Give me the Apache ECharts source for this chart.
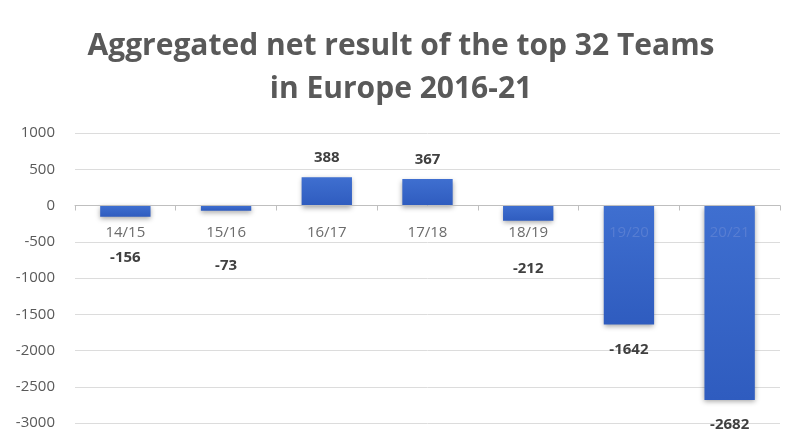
<!DOCTYPE html>
<html>
<head>
<meta charset="utf-8">
<script src="https://cdn.jsdelivr.net/npm/echarts@6/dist/echarts.min.js"></script>
<style>
  html, body { margin: 0; padding: 0; background: #ffffff; }
  #chart { width: 802px; height: 441px; }
</style>
</head>
<body>
<div id="chart"></div>
<script>
// Seasons on the category axis
const seasons = ['14/15', '15/16', '16/17', '17/18', '18/19', '19/20', '20/21'];
// Aggregated net result per season (EUR m)
const netResult = [-156, -73, 388, 367, -212, -1642, -2682];
// Gap between each bar end and its value label
const labelGap = [33, 47, 12, 12, 40, 18, 17];

const titleLines = ['Aggregated net result of the top 32 Teams', 'in Europe 2016-21'];

const yMin = -3000, yMax = 1000;
const gridTop = 133, gridBottom = 18, chartH = 441;

const chart = echarts.init(document.getElementById('chart'));

const barData = netResult.map((v, i) => ({
  value: v,
  label: {
    position: v < 0 ? 'bottom' : 'top',
    distance: labelGap[i]
  }
}));

// distance from the grid bottom up to the zero line, so the category axis sits on zero
const plotH = chartH - gridTop - gridBottom;
const zeroFromBottom = plotH * (0 - yMin) / (yMax - yMin);

chart.setOption({
  animation: false,
  title: {
    text: titleLines.join('\n'),
    left: 'center',
    top: 20,
    textStyle: {
      fontFamily: 'Open Sans',
      fontWeight: 'bold',
      fontSize: 30,
      color: '#595959',
      lineHeight: 43
    }
  },
  grid: {
    left: 75, right: 22, top: gridTop, bottom: gridBottom,
    containLabel: false,
    outerBoundsMode: 'none'
  },
  xAxis: {
    type: 'category',
    data: seasons,
    position: 'bottom',
    offset: -zeroFromBottom,
    z: 6,
    axisLine: { onZero: false, lineStyle: { color: '#bfbfbf', width: 1 } },
    axisTick: { show: true, length: 5, lineStyle: { color: '#bfbfbf' } },
    axisLabel: {
      margin: 20,
      fontFamily: 'Open Sans',
      fontSize: 15,
      // seasons whose long bars run through the label show it faintly on the bar
      color: (val, idx) => (netResult[idx] < -1000 ? 'rgba(110,140,215,0.55)' : '#6b6b6b')
    }
  },
  yAxis: {
    type: 'value',
    min: yMin,
    max: yMax,
    interval: 500,
    axisLine: { show: false },
    axisTick: { show: false },
    splitLine: { lineStyle: { color: '#dcdcdc', width: 1 } },
    axisLabel: {
      margin: 20,
      fontFamily: 'Open Sans',
      fontSize: 15,
      color: '#595959',
      formatter: v => String(v)
    }
  },
  series: [{
    type: 'bar',
    data: barData,
    barWidth: '50%',
    z: 5,
    itemStyle: {
      color: new echarts.graphic.LinearGradient(0, 0, 0, 1, [
        { offset: 0, color: '#3f6fd0' },
        { offset: 1, color: '#2f5cbf' }
      ]),
      shadowColor: 'rgba(0,0,0,0.35)',
      shadowBlur: 5,
      shadowOffsetY: 2
    },
    label: {
      show: true,
      fontFamily: 'Open Sans',
      fontWeight: 'bold',
      fontSize: 15,
      color: '#404040'
    }
  }]
});
</script>
</body>
</html>
